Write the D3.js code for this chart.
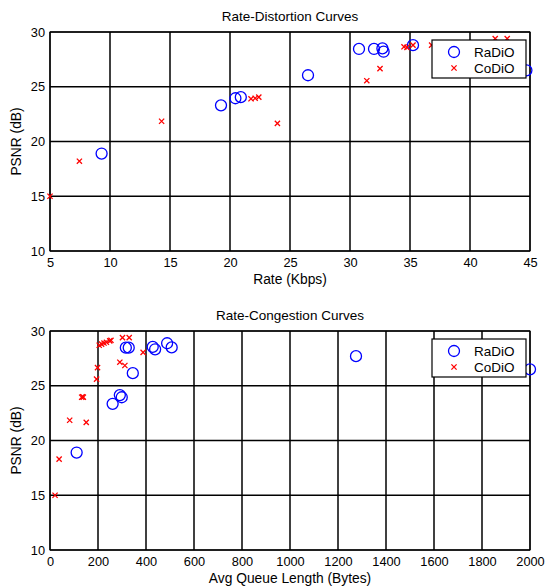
<!DOCTYPE html>
<html>
<head>
<meta charset="utf-8">
<script src="https://cdn.jsdelivr.net/npm/d3@7"></script>
<style>
  body { margin: 0; background: #fff; }
  text { font-family: "Liberation Sans", Arial, sans-serif; fill: #000; }
</style>
</head>
<body>
<svg id="vis" width="548" height="587"></svg>
<script>
// Rate-Distortion: rate (Kbps) vs PSNR (dB)
const radioRate = [9.3, 19.25, 20.45, 20.9, 26.5, 30.75, 32.0, 32.7, 32.8, 35.25, 44.7]
const radioRatePsnr = [18.9, 23.3, 23.95, 24.05, 26.05, 28.45, 28.45, 28.5, 28.2, 28.8, 26.5]
const codioRate = [5.0, 7.45, 14.3, 21.75, 22.1, 22.4, 23.95, 31.4, 32.5, 34.5, 34.75, 35.25, 36.8, 42.1, 43.1]
const codioRatePsnr = [15.0, 18.2, 21.85, 23.9, 23.95, 24.05, 21.65, 25.55, 26.65, 28.65, 28.6, 28.8, 28.8, 29.4, 29.4]

// Rate-Congestion: avg queue length (bytes) vs PSNR (dB)
const radioQueue = [111, 261, 291, 299, 316, 328, 345, 428, 438, 488, 507, 1275, 2000]
const radioQueuePsnr = [18.9, 23.35, 24.15, 23.95, 28.48, 28.48, 26.15, 28.55, 28.33, 28.88, 28.5, 27.7, 26.5]
const codioQueue = [21, 38, 82, 151, 132, 136, 139, 194, 198, 205, 215, 225, 235, 249, 254, 302, 330, 388, 291, 312]
const codioQueuePsnr = [15.0, 18.3, 21.85, 21.65, 23.95, 24.0, 23.95, 25.6, 26.65, 28.7, 28.8, 28.9, 28.97, 29.1, 29.15, 29.4, 29.4, 28.05, 27.15, 26.85]

const xTicksRate = [5, 10, 15, 20, 25, 30, 35, 40, 45]
const xTicksQueue = [0, 200, 400, 600, 800, 1000, 1200, 1400, 1600, 1800, 2000]
const yTicks = [10, 15, 20, 25, 30]
const legendLabels = ['RaDiO', 'CoDiO']

const svg = d3.select('#vis')
const left = 50
const right = 530

function drawPanel(cfg) {
  const g = svg.append('g')
  const x = d3.scaleLinear().domain(cfg.xDomain).range([left, right])
  const y = d3.scaleLinear().domain([10, 30]).range([cfg.bottom, cfg.top])

  // grid
  g.append('g')
    .attr('stroke', '#000')
    .attr('stroke-width', 1.5)
    .selectAll('line.v')
    .data(cfg.xTicks)
    .join('line')
    .attr('x1', (d) => x(d))
    .attr('x2', (d) => x(d))
    .attr('y1', cfg.top)
    .attr('y2', cfg.bottom)
  g.append('g')
    .attr('stroke', '#000')
    .attr('stroke-width', 1.5)
    .selectAll('line.h')
    .data(yTicks)
    .join('line')
    .attr('x1', left)
    .attr('x2', right)
    .attr('y1', (d) => y(d))
    .attr('y2', (d) => y(d))

  g.append('rect')
    .attr('x', left)
    .attr('y', cfg.top)
    .attr('width', right - left)
    .attr('height', cfg.bottom - cfg.top)
    .attr('fill', 'none')
    .attr('stroke', '#000')
    .attr('stroke-width', 1)

  const xAxis = g.append('g')
    .attr('transform', `translate(0,${cfg.bottom})`)
    .call(d3.axisBottom(x).tickValues(cfg.xTicks).tickFormat(d3.format('d')).tickSize(0).tickPadding(7))
  const yAxis = g.append('g')
    .attr('transform', `translate(${left},0)`)
    .call(d3.axisLeft(y).tickValues(yTicks).tickSize(0).tickPadding(5))
  ;[xAxis, yAxis].forEach((a) => {
    a.select('.domain').remove()
    a.selectAll('text').attr('font-size', 12.8).attr('fill', '#000')
      .attr('font-family', '"Liberation Sans", Arial, sans-serif')
  })

  // circles
  g.append('g')
    .selectAll('circle')
    .data(cfg.radio)
    .join('circle')
    .attr('cx', (d) => x(d[0]))
    .attr('cy', (d) => y(d[1]))
    .attr('r', 5.5)
    .attr('fill', 'none')
    .attr('stroke', '#0000ff')
    .attr('stroke-width', 1.3)

  // crosses
  const s = 2.6
  g.append('g')
    .selectAll('path')
    .data(cfg.codio)
    .join('path')
    .attr('d', (d) => {
      const cx = x(d[0]), cy = y(d[1])
      return `M${cx - s},${cy - s}L${cx + s},${cy + s}M${cx - s},${cy + s}L${cx + s},${cy - s}`
    })
    .attr('stroke', '#ff0000')
    .attr('stroke-width', 1.3)
    .attr('fill', 'none')

  // title & labels
  g.append('text')
    .attr('x', (left + right) / 2)
    .attr('y', cfg.top - 11)
    .attr('text-anchor', 'middle')
    .attr('font-size', 13.5)
    .text(cfg.title)
  g.append('text')
    .attr('x', (left + right) / 2)
    .attr('y', cfg.bottom + 33)
    .attr('text-anchor', 'middle')
    .attr('font-size', 13.8)
    .text(cfg.xLabel)
  g.append('text')
    .attr('transform', `translate(21,${(cfg.top + cfg.bottom) / 2}) rotate(-90)`)
    .attr('text-anchor', 'middle')
    .attr('font-size', 13.8)
    .text('PSNR (dB)')

  // legend
  const lg = g.append('g').attr('transform', `translate(432,${cfg.top + 8})`)
  lg.append('rect')
    .attr('width', 94)
    .attr('height', 38)
    .attr('fill', '#fff')
    .attr('stroke', '#000')
    .attr('stroke-width', 1.2)
  lg.append('circle')
    .attr('cx', 22)
    .attr('cy', 12)
    .attr('r', 5.5)
    .attr('fill', 'none')
    .attr('stroke', '#0000ff')
    .attr('stroke-width', 1.3)
  lg.append('path')
    .attr('d', `M${22 - s},${28 - s}L${22 + s},${28 + s}M${22 - s},${28 + s}L${22 + s},${28 - s}`)
    .attr('stroke', '#ff0000')
    .attr('stroke-width', 1.3)
  lg.selectAll('text')
    .data(legendLabels)
    .join('text')
    .attr('x', 42)
    .attr('y', (d, i) => 12 + i * 16)
    .attr('dy', '0.35em')
    .attr('font-size', 13.5)
    .text((d) => d)
}

drawPanel({
  title: 'Rate-Distortion Curves',
  xLabel: 'Rate (Kbps)',
  xDomain: [5, 45],
  xTicks: xTicksRate,
  top: 32,
  bottom: 251,
  radio: d3.zip(radioRate, radioRatePsnr),
  codio: d3.zip(codioRate, codioRatePsnr),
})

drawPanel({
  title: 'Rate-Congestion Curves',
  xLabel: 'Avg Queue Length (Bytes)',
  xDomain: [0, 2000],
  xTicks: xTicksQueue,
  top: 331,
  bottom: 550,
  radio: d3.zip(radioQueue, radioQueuePsnr),
  codio: d3.zip(codioQueue, codioQueuePsnr),
})
</script>
</body>
</html>
